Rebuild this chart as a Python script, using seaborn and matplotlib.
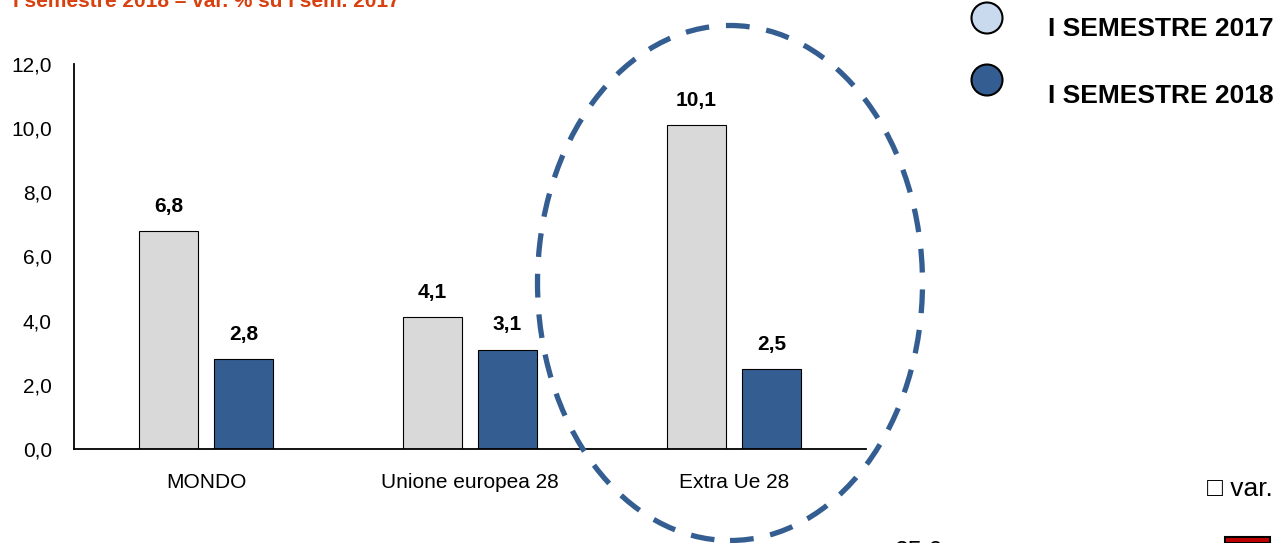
import numpy as np
import pandas as pd
import matplotlib
matplotlib.use("Agg")
import matplotlib.pyplot as plt
from matplotlib.patches import Ellipse, Rectangle
import seaborn as sns

# ── data ─────────────────────────────────────────────────────────────────────
categories = ["MONDO", "Unione europea 28", "Extra Ue 28"]
series     = ["I SEMESTRE 2017", "I SEMESTRE 2018"]
val_2017   = [6.8, 4.1, 10.1]
val_2018   = [2.8, 3.1, 2.5]
y_ticks    = [0, 2, 4, 6, 8, 10, 12]
title_txt  = "I semestre 2018 – var. % su I sem. 2017"

LIGHT = "#D9D9D9"
DARK  = "#345E91"
LEG_LIGHT = "#C9D9EE"
RED   = "#D9400F"

df = pd.DataFrame({
    "cat":   categories * 2,
    "serie": [series[0]] * 3 + [series[1]] * 3,
    "val":   val_2017 + val_2018,
})

# ── style ────────────────────────────────────────────────────────────────────
sns.set_style("white")
plt.rcParams["font.family"] = ["Liberation Sans", "DejaVu Sans"]
plt.rcParams["text.color"] = "black"
plt.rcParams["xtick.color"] = "black"
plt.rcParams["ytick.color"] = "black"

W, H = 1277, 543
fig = plt.figure(figsize=(W / 100, H / 100), dpi=100)
ax = fig.add_axes([74 / W, 1 - 449 / H, (866 - 74) / W, (449 - 64) / H])

sns.barplot(data=df, x="cat", y="val", hue="serie", order=categories,
            hue_order=series, palette=[LIGHT, DARK], saturation=1,
            width=0.568, gap=0.213, edgecolor="black", linewidth=0.8,
            legend=False, ax=ax)

# value labels
for cont in ax.containers:
    labs = [f"{b.get_height():.1f}".replace(".", ",") for b in cont]
    ax.bar_label(cont, labels=labs, padding=11, fontsize=15, fontweight="bold")

# axes
ax.set_xlim(-0.5, len(categories) - 0.5)
ax.set_ylim(0, 12)
ax.set_yticks(y_ticks)
ax.set_yticklabels([f"{t:.1f}".replace(".", ",") for t in y_ticks], fontsize=15)
ax.set_xticks(range(len(categories)))
ax.set_xticklabels(categories, fontsize=15)
ax.set_xticks(np.arange(-0.5, len(categories)), minor=True)
ax.tick_params(axis="x", which="major", length=0, pad=17)
ax.tick_params(axis="x", which="minor", length=7, width=1.2, direction="out")
ax.tick_params(axis="y", length=6, width=1.2, direction="out", pad=10)
ax.set_xlabel("")
ax.set_ylabel("")
for s in ["top", "right"]:
    ax.spines[s].set_visible(False)
for s in ["left", "bottom"]:
    ax.spines[s].set_color("black")
    ax.spines[s].set_linewidth(1.3)

# dashed ellipse highlighting Extra Ue
ell = Ellipse((730 / W, 1 - 283 / H), 385 / W, 515 / H, transform=fig.transFigure,
              fill=False, edgecolor=DARK, linewidth=3.8, linestyle=(0, (4.5, 3.2)))
fig.add_artist(ell)

# title (cut off at top in the original)
fig.text(13 / W, 1 - 7 / H, title_txt, color=RED, fontsize=15, fontweight="bold",
         va="baseline", ha="left")

# legend with circles
for yc, yt, col, lab in [(18, 29, LEG_LIGHT, series[0]), (80, 96, DARK, series[1])]:
    c = Ellipse((987 / W, 1 - yc / H), 31 / W, 31 / H, transform=fig.transFigure,
                facecolor=col, edgecolor="black", linewidth=1.5)
    fig.add_artist(c)
    fig.text(1048 / W, 1 - yt / H, lab, fontsize=19, fontweight="bold",
             va="center", ha="left")

# stray bits from the source slide
fig.text(1207 / W, 1 - 489 / H, "□ var.", fontsize=19, va="center", ha="left",
         family=["Liberation Sans", "DejaVu Sans"])
fig.text(895 / W, 1 - 552 / H, "25,0", fontsize=18, va="center", ha="left")
fig.add_artist(Rectangle((1225 / W, 0), 45 / W, 6 / H, transform=fig.transFigure,
                         facecolor="#C00000", edgecolor="black", linewidth=1.5))

fig.savefig("out.png", dpi=100)
